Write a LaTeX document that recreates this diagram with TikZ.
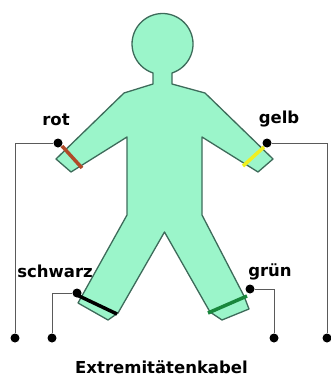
\documentclass[tikz,border=0pt]{standalone}
\usepackage{fontspec}
\setmainfont{DejaVu Sans}
\usetikzlibrary{positioning}
\definecolor{haut}{RGB}{155,245,202}
\definecolor{kontur}{RGB}{61,107,90}
\definecolor{kabel}{RGB}{90,90,90}
\definecolor{rotband}{RGB}{176,74,40}
\definecolor{gelbband}{RGB}{240,240,30}
\definecolor{gruenband}{RGB}{25,135,60}

\begin{document}
\begin{tikzpicture}[x=1pt,y=-1pt,
  pol/.style={circle,fill=black,inner sep=0pt,minimum size=9pt},
  lbl/.style={font=\bfseries\fontsize{16.5}{19}\selectfont,inner sep=0pt,anchor=base},
  kab/.style={draw=kabel,line width=1pt},
  band/.style={line width=3.5pt}]
  \useasboundingbox (0,0) rectangle (331,377);
  % Koerper mit Kopf
  \filldraw[fill=haut,draw=kontur,line width=1.3pt,line join=round]
    (172,73) arc[start angle=71.9,end angle=-251.9,radius=30.5]
    -- (153,84) -- (124,93) -- (56,159) -- (71,172) -- (127,137)
    -- (127,215) -- (78,303) -- (108,320) -- (118,313) -- (164.5,232)
    -- (210,312) -- (222,320) -- (249,309) -- (244,296) -- (202,215)
    -- (202,137) -- (258,172) -- (273,159) -- (205,93) -- (172,84) -- cycle;
  % Elektroden
  \draw[band,rotband] (62,146) -- (82,168);
  \draw[band,gelbband] (264,147) -- (243,166);
  \draw[band,black] (77,295) -- (117,314);
  \draw[band,gruenband] (247,296) -- (208,313);
  % Kabel
  \node[pol] (rot) at (58,143) {};
  \node[pol] (rotEnde) at (15,338) {};
  \node[pol] (gelb) at (267,143) {};
  \node[pol] (gelbEnde) at (327,338) {};
  \node[pol] (schwarz) at (77,293) {};
  \node[pol] (schwarzEnde) at (52,338) {};
  \node[pol] (gruen) at (250,289) {};
  \node[pol] (gruenEnde) at (274,338) {};
  \draw[kab] (rot) -| (rotEnde);
  \draw[kab] (gelb) -| (gelbEnde);
  \draw[kab] (schwarz) -| (schwarzEnde);
  \draw[kab] (gruen) -| (gruenEnde);
  \node[lbl] (rotText) at (56,125) {rot};
  \node[lbl] (gelbText) at (279,123) {gelb};
  \node[lbl] (schwarzText) at (55,277) {schwarz};
  \node[lbl] (gruenText) at (270,276) {grün};
  \node[lbl] (titel) at (161.5,373) {Extremitätenkabel};
\end{tikzpicture}
\end{document}
